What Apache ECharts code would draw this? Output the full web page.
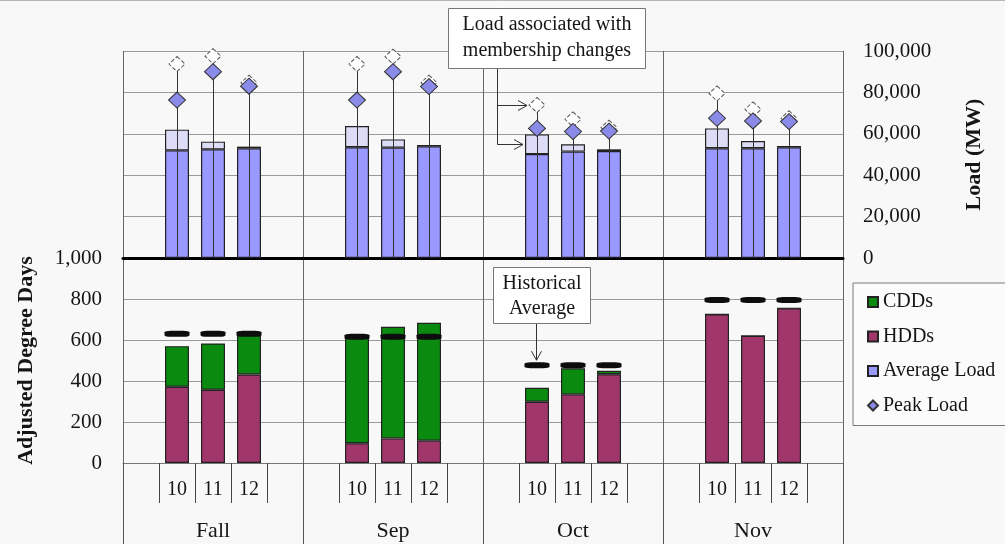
<!DOCTYPE html>
<html>
<head>
<meta charset="utf-8">
<script src="https://cdn.jsdelivr.net/npm/echarts@6/dist/echarts.min.js"></script>
<style>
  html, body { margin: 0; padding: 0; background: #f8f8f8; }
  #chart { width: 1005px; height: 544px; }
</style>
</head>
<body>
<div id="chart"></div>
<script>
// Seasons / months and the three years shown in each
const groups = ['Fall', 'Sep', 'Oct', 'Nov'];
const years = ['10', '11', '12'];

// Average load (MW): without membership changes, and including them
const avgLoadBase  = [[52000, 52500, 53000], [53500, 53300, 54000], [50200, 51400, 51700], [53000, 53000, 53500]];
const avgLoadTotal = [[62000, 56200, 53800], [63800, 57300, 54600], [59700, 54900, 52500], [62600, 56500, 54100]];

// Peak load (MW): without membership changes, and including them
const peakLoad      = [[76300, 90000, 83000], [76300, 90000, 82800], [62600, 61100, 61300], [67500, 66200, 65900]];
const peakLoadTotal = [[93700, 97500, 84700], [93700, 97300, 84700], [73900, 67000, 63000], [79500, 71800, 67500]];

// Adjusted degree days and the historical average
const hdd     = [[372, 357, 432], [96, 120, 109], [299, 335, 433], [725, 620, 755]];
const cdd     = [[198, 226, 196], [516, 545, 575], [68, 127, 17], [0, 0, 0]];
const histAvg = [[630, 630, 630], [616, 616, 616], [477, 477, 477], [795, 795, 795]];

// Axis ranges
const loadAxis = { min: 0, max: 100000, interval: 20000 };
const ddAxis = { min: 0, max: 1000, interval: 200 };

const SERIF = '"Liberation Serif", "Times New Roman", serif';
const TEXT = '#151515';

// Each group gets five slots: an empty one, the three years, another empty one
const slotCats = [];
groups.forEach(g => {
  slotCats.push(g + '|');
  years.forEach(y => slotCats.push(g + '|' + y));
  slotCats.push(g + '| ');
});
function slots(rows) {
  const out = [];
  rows.forEach(r => { out.push('-'); r.forEach(v => out.push(v)); out.push('-'); });
  return out;
}
function slotIndex(g, y) { return g * 5 + 1 + y; }

const memberIncrement = avgLoadTotal.map((r, g) => r.map((v, y) => v - avgLoadBase[g][y]));
const whiskerData = [];
peakLoad.forEach((r, g) => r.forEach((v, y) => {
  whiskerData.push([slotIndex(g, y), Math.max(v, peakLoadTotal[g][y])]);
}));

const fmt = v => String(v).replace(/\B(?=(\d{3})+(?!\d))/g, ',');

const chart = echarts.init(document.getElementById('chart'), null, { renderer: 'canvas' });

const option = {
  animation: false,
  backgroundColor: '#f8f8f8',
  textStyle: { fontFamily: SERIF, color: TEXT },
  grid: [
    { left: 123, right: 162, top: 51, height: 207 },
    { left: 123, right: 162, top: 258, height: 205 }
  ],
  legend: {
    orient: 'vertical',
    left: 853, top: 283,
    padding: [9, 40, 10, 14],
    itemGap: 14.5,
    itemWidth: 10, itemHeight: 10,
    borderColor: '#7a7a7a', borderWidth: 1,
    backgroundColor: '#fbfbfb',
    textStyle: { fontFamily: SERIF, fontSize: 20, color: TEXT },
    selectedMode: false,
    data: [
      { name: 'CDDs', icon: 'rect' },
      { name: 'HDDs', icon: 'rect' },
      { name: 'Average Load', icon: 'rect' },
      { name: 'Peak Load', icon: 'diamond' }
    ]
  },
  xAxis: [
    { type: 'category', gridIndex: 0, position: 'bottom', data: slotCats, show: false },
    {
      type: 'category', gridIndex: 0, position: 'bottom', data: groups,
      axisLine: { lineStyle: { color: '#000', width: 3 } },
      axisTick: { show: false }, axisLabel: { show: false },
      splitLine: { show: true, interval: 0, lineStyle: { color: '#666', width: 1 } }
    },
    {
      type: 'category', gridIndex: 1, position: 'bottom', data: slotCats,
      axisLine: { show: false },
      axisTick: { show: true, interval: 0, length: 40, lineStyle: { color: '#444' } },
      axisLabel: {
        interval: 0, margin: 17, fontSize: 20, fontFamily: SERIF, color: TEXT,
        formatter: v => v.split('|')[1].trim()
      }
    },
    {
      type: 'category', gridIndex: 1, position: 'bottom', data: groups,
      axisLine: { lineStyle: { color: '#777', width: 1 } },
      axisTick: { show: true, interval: 0, length: 81, lineStyle: { color: '#555' } },
      axisLabel: { margin: 57, fontSize: 22, fontFamily: SERIF, color: TEXT },
      splitLine: { show: true, interval: 0, lineStyle: { color: '#666', width: 1 } }
    }
  ],
  yAxis: [
    {
      type: 'value', gridIndex: 0, position: 'right',
      min: loadAxis.min, max: loadAxis.max, interval: loadAxis.interval,
      name: 'Load (MW)', nameLocation: 'middle', nameRotate: 90, nameGap: 120,
      nameTextStyle: { fontFamily: SERIF, fontSize: 22, fontWeight: 'bold', color: TEXT },
      axisLine: { show: false }, axisTick: { show: false },
      axisLabel: { margin: 20, fontSize: 21, fontFamily: SERIF, color: TEXT, formatter: fmt },
      splitLine: { lineStyle: { color: '#9a9a9a', width: 1 } }
    },
    {
      type: 'value', gridIndex: 1, position: 'left',
      min: ddAxis.min, max: ddAxis.max, interval: ddAxis.interval,
      name: 'Adjusted Degree Days', nameLocation: 'middle', nameRotate: 90, nameGap: 86,
      nameTextStyle: { fontFamily: SERIF, fontSize: 22, fontWeight: 'bold', color: TEXT },
      axisLine: { show: false }, axisTick: { show: false },
      axisLabel: { margin: 21, fontSize: 21, fontFamily: SERIF, color: TEXT, formatter: fmt },
      splitLine: { lineStyle: { color: '#9a9a9a', width: 1 } }
    }
  ],
  series: [
    {
      name: 'Average Load', type: 'bar', xAxisIndex: 0, yAxisIndex: 0, stack: 'load',
      barWidth: 24, data: slots(avgLoadBase),
      itemStyle: { color: '#9999ff', borderColor: '#222', borderWidth: 1.2 }
    },
    {
      name: 'Membership Load', type: 'bar', xAxisIndex: 0, yAxisIndex: 0, stack: 'load',
      barWidth: 24, data: slots(memberIncrement),
      itemStyle: { color: '#dcdcf6', borderColor: '#222', borderWidth: 1.2 }
    },
    {
      name: 'Peak Line', type: 'custom', xAxisIndex: 0, yAxisIndex: 0, z: 3,
      data: whiskerData,
      renderItem: (params, api) => {
        const p0 = api.coord([api.value(0), 0]);
        const p1 = api.coord([api.value(0), api.value(1)]);
        return {
          type: 'line',
          shape: { x1: Math.round(p0[0]) + 0.5, y1: p0[1], x2: Math.round(p1[0]) + 0.5, y2: p1[1] },
          style: { stroke: '#333', lineWidth: 1 }
        };
      }
    },
    {
      name: 'Membership Peak', type: 'scatter', xAxisIndex: 0, yAxisIndex: 0, z: 4,
      symbol: 'diamond', symbolSize: [16, 15], data: slots(peakLoadTotal),
      itemStyle: { color: '#ffffff', borderColor: '#555', borderWidth: 1, borderType: 'dashed', opacity: 1 }
    },
    {
      name: 'Peak Load', type: 'scatter', xAxisIndex: 0, yAxisIndex: 0, z: 5,
      symbol: 'diamond', symbolSize: [17, 16], data: slots(peakLoad),
      itemStyle: { color: '#8a8ae8', borderColor: '#333', borderWidth: 1, opacity: 1 }
    },
    {
      name: 'HDDs', type: 'bar', xAxisIndex: 2, yAxisIndex: 1, stack: 'dd',
      barWidth: 24, data: slots(hdd),
      itemStyle: { color: '#a1366b', borderColor: '#222', borderWidth: 1.2 }
    },
    {
      name: 'CDDs', type: 'bar', xAxisIndex: 2, yAxisIndex: 1, stack: 'dd',
      barWidth: 24, data: slots(cdd),
      itemStyle: { color: '#0b8a10', borderColor: '#222', borderWidth: 1.2 }
    },
    {
      name: 'Historical Average', type: 'scatter', xAxisIndex: 2, yAxisIndex: 1, z: 5,
      symbol: 'roundRect', symbolSize: [25, 6], data: slots(histAvg),
      itemStyle: { color: '#0d0d0d', opacity: 1 }
    }
  ]
};

chart.setOption(option);

// Callouts, pointed at marks located through the chart's own scales
const octIdx = slotIndex(2, 0);
const pPeak = chart.convertToPixel({ xAxisIndex: 0, yAxisIndex: 0 }, [octIdx, peakLoadTotal[2][0]]);
const pBand = chart.convertToPixel({ xAxisIndex: 0, yAxisIndex: 0 },
  [octIdx, (avgLoadBase[2][0] + avgLoadTotal[2][0]) / 2]);
const pHist = chart.convertToPixel({ xAxisIndex: 2, yAxisIndex: 1 }, [octIdx, histAvg[2][0]]);

const line = '#333';
const connX = 497.5;
const tip1 = [pPeak[0] - 10, Math.round(pPeak[1]) + 0.5];
const tip2 = [pBand[0] - 14, Math.round(pBand[1]) + 0.5];
const histX = Math.round(pHist[0]) - 0.5;
const histTip = pHist[1] - 5;

chart.setOption({
  graphic: [
    { type: 'line', shape: { x1: 0, y1: 0.5, x2: 1005, y2: 0.5 }, style: { stroke: '#b5b5b5', lineWidth: 1 } },
    // Membership-change callout
    { type: 'rect', shape: { x: 448.5, y: 8.5, width: 197, height: 60 },
      style: { fill: '#ffffff', stroke: '#777', lineWidth: 1 }, z: 10 },
    { type: 'text', x: 547, y: 38, z: 11,
      style: { text: 'Load associated with\nmembership changes', font: '20px ' + SERIF, fill: TEXT,
        align: 'center', verticalAlign: 'middle', lineHeight: 26 } },
    { type: 'polyline', z: 10, shape: { points: [[connX, 69], [connX, tip2[1]], [tip2[0], tip2[1]]] },
      style: { stroke: line, lineWidth: 1, fill: null } },
    { type: 'line', z: 10, shape: { x1: connX, y1: tip1[1], x2: tip1[0], y2: tip1[1] },
      style: { stroke: line, lineWidth: 1 } },
    { type: 'polyline', z: 10, shape: { points: [[tip1[0] - 9, tip1[1] - 5], tip1, [tip1[0] - 9, tip1[1] + 5]] },
      style: { stroke: line, lineWidth: 1, fill: null } },
    { type: 'polyline', z: 10, shape: { points: [[tip2[0] - 9, tip2[1] - 5], tip2, [tip2[0] - 9, tip2[1] + 5]] },
      style: { stroke: line, lineWidth: 1, fill: null } },
    // Historical-average callout
    { type: 'rect', shape: { x: 493.5, y: 267.5, width: 97, height: 56 },
      style: { fill: '#ffffff', stroke: '#777', lineWidth: 1 }, z: 10 },
    { type: 'text', x: 542, y: 296, z: 11,
      style: { text: 'Historical\nAverage', font: '20px ' + SERIF, fill: TEXT,
        align: 'center', verticalAlign: 'middle', lineHeight: 25 } },
    { type: 'line', z: 10, shape: { x1: histX, y1: 324, x2: histX, y2: histTip },
      style: { stroke: line, lineWidth: 1 } },
    { type: 'polyline', z: 10, shape: { points: [[histX - 5, histTip - 9], [histX, histTip], [histX + 5, histTip - 9]] },
      style: { stroke: line, lineWidth: 1, fill: null } }
  ]
});
</script>
</body>
</html>
